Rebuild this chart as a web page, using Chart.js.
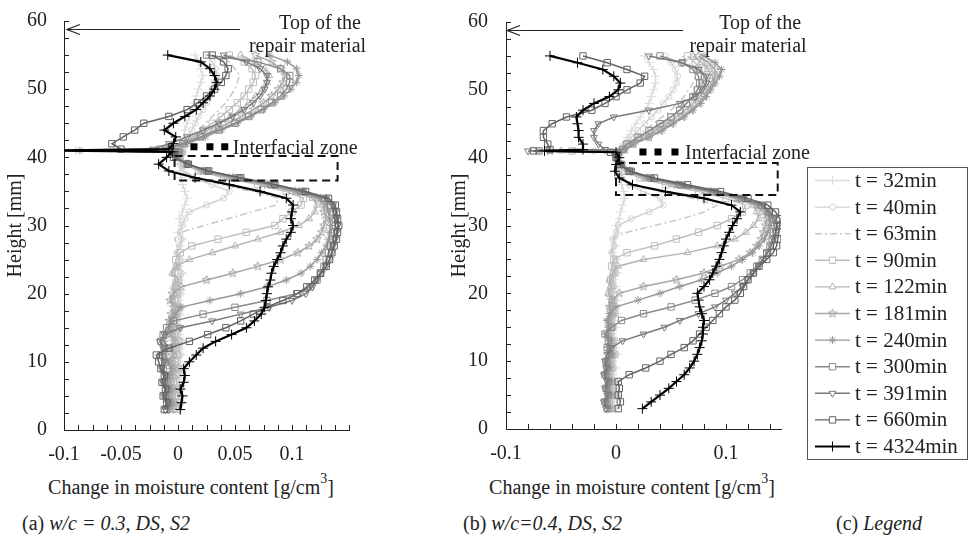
<!DOCTYPE html>
<html>
<head>
<meta charset="utf-8">
<script src="https://cdn.jsdelivr.net/npm/chart.js@4.4.1/dist/chart.umd.min.js"></script>
<style>
  html, body { margin: 0; padding: 0; background: #fff; }
  body { width: 971px; height: 549px; position: relative; overflow: hidden;
         font-family: "Liberation Serif", "DejaVu Serif", serif; color: #222; }
  canvas { position: absolute; }
  .lbl { position: absolute; font-size: 20px; line-height: 24px; white-space: nowrap; }
  .lbl sup { font-size: 14px; line-height: 0; position: relative; top: -3px; }
  .cap { position: absolute; font-size: 20px; line-height: 24px; white-space: nowrap; }
</style>
</head>
<body>
<canvas id="panelA" width="380" height="470" style="left:0;top:0"></canvas>
<canvas id="panelB" width="400" height="470" style="left:420px;top:0"></canvas>
<canvas id="legendBox" width="161" height="293" style="left:807px;top:167px"></canvas>
<div class="lbl" style="left:191px;top:475px;transform:translateX(-50%)">Change in moisture content [g/cm<sup>3</sup>]</div>
<div class="lbl" style="left:632px;top:475px;transform:translateX(-50%)">Change in moisture content [g/cm<sup>3</sup>]</div>
<div class="cap" style="left:22px;top:511px">(a) <i>w/c = 0.3, DS, S2</i></div>
<div class="cap" style="left:463px;top:511px">(b) <i>w/c=0.4, DS, S2</i></div>
<div class="cap" style="left:836px;top:511px">(c) <i>Legend</i></div>
<script>
(function () {
  const heights = [3, 4, 5, 6, 7, 8, 9, 10, 11, 12,
    13, 14, 15, 16, 17, 18, 19, 20, 21, 22,
    23, 24, 25, 26, 27, 28, 29, 30, 31, 32,
    33, 34, 35, 36, 37, 38, 39, 40, 40.8,
    41,
    41.2, 42, 43, 44, 45, 46, 47, 48, 49, 50, 51, 52, 53, 54, 55];

  const seriesLabels = ["t = 32min", "t = 40min", "t = 63min", "t = 90min", "t = 122min", "t = 181min",
    "t = 240min", "t = 300min", "t = 391min", "t = 660min", "t = 4324min"];
  const seriesColors = ["#dcdcdc", "#d2d2d2", "#c8c8c8", "#bebebe", "#b4b4b4", "#a6a6a6",
    "#989898", "#8a8a8a", "#7a7a7a", "#636363", "#000000"];

  // (a) w/c = 0.3
  const a32 = [0.002, 0.004, 0.001, 0.003, 0.000, 0.002, 0.004, 0.001, 0.003, 0.002,
    0.004, 0.001, 0.003, 0.000, 0.002, 0.004, 0.001, 0.003, 0.000, 0.002,
    0.004, 0.001, 0.003, -0.001, 0.002, 0.004, 0.000, 0.003, 0.001, 0.004,
    0.006, 0.008, 0.006, 0.004, 0.003, 0.002, 0.001, 0.002, 0.004,
    -0.09,
    0.000, 0.002, 0.005, 0.006, 0.008, 0.010, 0.012, 0.014, 0.016, 0.018, 0.020, 0.022, 0.020, 0.018, 0.015];
  const a40 = [0.001, 0.003, 0.000, 0.002, -0.001, 0.001, 0.003, 0.000, 0.002, 0.001,
    0.003, 0.000, 0.002, -0.001, 0.001, 0.003, 0.000, 0.002, -0.001, 0.001,
    0.003, 0.000, 0.002, -0.001, 0.001, 0.003, 0.002, 0.004, 0.006, 0.010,
    0.025, 0.040, 0.045, 0.030, 0.012, 0.004, 0.002, 0.002, 0.003,
    -0.105,
    0.000, 0.004, 0.008, 0.012, 0.015, 0.018, 0.022, 0.025, 0.028, 0.030, 0.032, 0.034, 0.033, 0.030, 0.026];
  const a63 = [0.000, 0.002, -0.001, 0.001, -0.002, 0.000, 0.002, -0.001, 0.001, 0.000,
    0.002, -0.001, 0.001, -0.002, 0.000, 0.002, -0.001, 0.001, -0.002, 0.000,
    0.002, -0.001, 0.001, -0.002, 0.000, -0.003, 0.002, 0.023, 0.044, 0.065,
    0.086, 0.088, 0.065, 0.038, 0.016, 0.005, 0.002, 0.001, 0.003,
    -0.105,
    -0.002, 0.005, 0.012, 0.018, 0.024, 0.030, 0.036, 0.042, 0.046, 0.050, 0.052, 0.054, 0.050, 0.045, 0.035];
  const a90 = [-0.002, 0.000, -0.003, -0.001, -0.004, -0.002, 0.000, -0.003, -0.001, -0.002,
    0.000, -0.003, -0.001, -0.004, -0.002, 0.000, -0.003, -0.001, -0.002, 0.000,
    -0.003, -0.001, -0.002, 0.002, 0.012, 0.035, 0.060, 0.085, 0.092, 0.100,
    0.108, 0.110, 0.095, 0.070, 0.040, 0.018, 0.006, 0.002, 0.004,
    -0.105,
    -0.006, 0.004, 0.014, 0.022, 0.030, 0.038, 0.045, 0.052, 0.058, 0.062, 0.066, 0.068, 0.065, 0.058, 0.045];
  const a122 = [-0.004, -0.002, -0.005, -0.003, -0.006, -0.004, -0.002, -0.005, -0.003, -0.004,
    -0.002, -0.005, -0.003, -0.006, -0.004, -0.002, -0.005, -0.003, -0.004, -0.002,
    -0.005, -0.002, 0.010, 0.030, 0.050, 0.070, 0.090, 0.106, 0.115, 0.120,
    0.122, 0.118, 0.100, 0.075, 0.045, 0.020, 0.007, 0.001, 0.003,
    -0.105,
    -0.008, 0.004, 0.016, 0.026, 0.036, 0.046, 0.055, 0.062, 0.068, 0.074, 0.078, 0.080, 0.076, 0.068, 0.055];
  const a181 = [-0.006, -0.004, -0.007, -0.005, -0.008, -0.006, -0.004, -0.007, -0.005, -0.006,
    -0.004, -0.007, -0.005, -0.008, -0.006, -0.004, -0.007, -0.005, 0.003, 0.025,
    0.048, 0.070, 0.090, 0.105, 0.115, 0.122, 0.126, 0.128, 0.130, 0.128,
    0.128, 0.122, 0.103, 0.078, 0.048, 0.022, 0.008, 0.000, 0.002,
    -0.105,
    -0.010, 0.006, 0.020, 0.032, 0.044, 0.056, 0.066, 0.075, 0.082, 0.088, 0.092, 0.094, 0.090, 0.082, 0.068];
  const a240 = [-0.008, -0.006, -0.009, -0.007, -0.010, -0.008, -0.006, -0.009, -0.011, -0.009,
    -0.012, -0.010, -0.008, -0.006, -0.002, 0.002, 0.028, 0.055, 0.078, 0.095,
    0.108, 0.116, 0.122, 0.126, 0.130, 0.132, 0.133, 0.134, 0.133, 0.132,
    0.130, 0.125, 0.106, 0.080, 0.050, 0.024, 0.009, 0.000, 0.002,
    -0.086,
    -0.012, 0.008, 0.024, 0.038, 0.052, 0.064, 0.075, 0.085, 0.093, 0.099, 0.104, 0.106, 0.104, 0.096, 0.080];
  const a300 = [-0.010, -0.008, -0.011, -0.009, -0.012, -0.010, -0.013, -0.011, -0.014, -0.012,
    -0.015, -0.013, -0.010, -0.004, 0.022, 0.050, 0.078, 0.104, 0.116, 0.122,
    0.125, 0.128, 0.130, 0.132, 0.134, 0.136, 0.137, 0.138, 0.138, 0.136,
    0.134, 0.128, 0.108, 0.082, 0.052, 0.025, 0.008, -0.002, 0.000,
    -0.105,
    -0.016, 0.004, 0.020, 0.036, 0.050, 0.062, 0.073, 0.082, 0.090, 0.095, 0.098, 0.098, 0.090, 0.070, 0.025];
  const a391 = [-0.011, -0.009, -0.012, -0.010, -0.013, -0.011, -0.014, -0.012, -0.015, -0.013,
    -0.016, -0.012, 0.002, 0.030, 0.055, 0.080, 0.100, 0.112, 0.118, 0.122,
    0.126, 0.130, 0.133, 0.135, 0.136, 0.138, 0.139, 0.140, 0.139, 0.138,
    0.136, 0.130, 0.110, 0.084, 0.054, 0.026, 0.008, -0.003, -0.002,
    -0.105,
    -0.022, -0.008, 0.008, 0.022, 0.036, 0.048, 0.058, 0.066, 0.072, 0.076, 0.078, 0.078, 0.072, 0.060, 0.040];
  const a660 = [-0.012, -0.010, -0.013, -0.011, -0.014, -0.012, -0.015, -0.017, -0.019, -0.008,
    0.010, 0.026, 0.042, 0.055, 0.066, 0.078, 0.092, 0.105, 0.113, 0.120,
    0.125, 0.130, 0.133, 0.135, 0.137, 0.139, 0.140, 0.141, 0.140, 0.139,
    0.138, 0.132, 0.112, 0.085, 0.055, 0.027, 0.009, -0.004, -0.003,
    -0.105,
    -0.050, -0.058, -0.048, -0.038, -0.030, -0.008, 0.008, 0.017, 0.025, 0.032, 0.038, 0.042, 0.044, 0.040, 0.030];
  const a4324 = [0.002, 0.003, 0.004, 0.002, 0.005, 0.006, 0.005, 0.010, 0.016, 0.022,
    0.033, 0.047, 0.060, 0.067, 0.073, 0.076, 0.077, 0.078, 0.079, 0.081,
    0.082, 0.084, 0.087, 0.090, 0.092, 0.095, 0.099, 0.101, 0.099, 0.100,
    0.101, 0.095, 0.072, 0.045, 0.015, -0.008, -0.017, -0.010, -0.005,
    -0.105,
    -0.008, -0.004, -0.002, -0.012, -0.004, 0.006, 0.016, 0.022, 0.028, 0.032, 0.034, 0.032, 0.028, 0.020, -0.009];

  // (b) w/c = 0.4
  const b32 = [0.000, -0.003, 0.002, -0.002, 0.001, -0.003, 0.000, -0.002, 0.002, -0.001,
    0.001, -0.003, 0.000, -0.002, 0.002, -0.001, 0.001, -0.003, 0.000, -0.002,
    0.002, -0.001, 0.001, -0.003, 0.000, -0.002, 0.002, 0.000, 0.003, 0.004,
    0.006, 0.008, 0.007, 0.005, 0.003, 0.002, 0.001, 0.002, 0.003,
    -0.010,
    0.004, 0.006, 0.010, 0.014, 0.018, 0.022, 0.026, 0.030, 0.032, 0.034, 0.036, 0.036, 0.034, 0.030, 0.026];
  const b40 = [-0.002, -0.004, 0.000, -0.003, -0.001, -0.004, -0.002, -0.003, 0.000, -0.002,
    -0.001, -0.004, -0.002, -0.003, 0.000, -0.002, -0.001, -0.004, -0.002, -0.003,
    0.000, -0.002, -0.001, -0.004, -0.002, -0.003, 0.000, 0.002, 0.014, 0.030,
    0.043, 0.040, 0.025, 0.012, 0.005, 0.003, 0.002, 0.002, 0.003,
    -0.020,
    0.005, 0.008, 0.014, 0.020, 0.026, 0.032, 0.038, 0.043, 0.048, 0.052, 0.055, 0.056, 0.054, 0.050, 0.045];
  const b63 = [-0.003, -0.005, -0.001, -0.004, -0.002, -0.005, -0.003, -0.004, -0.001, -0.003,
    -0.002, -0.005, -0.003, -0.004, -0.001, -0.003, -0.002, -0.005, -0.003, -0.004,
    -0.001, -0.003, -0.002, -0.005, -0.003, -0.003, 0.010, 0.035, 0.060, 0.080,
    0.092, 0.070, 0.040, 0.016, 0.006, 0.003, 0.002, 0.001, 0.003,
    -0.030,
    0.006, 0.010, 0.018, 0.026, 0.034, 0.042, 0.050, 0.056, 0.062, 0.066, 0.070, 0.072, 0.070, 0.066, 0.060];
  const b90 = [-0.004, -0.006, -0.003, -0.005, -0.003, -0.006, -0.004, -0.005, -0.002, -0.004,
    -0.003, -0.006, -0.004, -0.005, -0.002, -0.004, -0.003, -0.006, -0.004, -0.005,
    -0.002, -0.004, -0.002, 0.010, 0.035, 0.055, 0.075, 0.092, 0.105, 0.115,
    0.118, 0.100, 0.075, 0.045, 0.022, 0.008, 0.003, 0.001, 0.003,
    -0.040,
    0.006, 0.012, 0.022, 0.032, 0.042, 0.050, 0.058, 0.064, 0.070, 0.074, 0.078, 0.080, 0.078, 0.072, 0.065];
  const b122 = [-0.005, -0.007, -0.004, -0.006, -0.004, -0.007, -0.005, -0.006, -0.003, -0.005,
    -0.004, -0.007, -0.005, -0.006, -0.003, -0.005, -0.004, -0.007, -0.005, -0.006,
    -0.003, 0.002, 0.025, 0.065, 0.092, 0.108, 0.118, 0.125, 0.130, 0.128,
    0.125, 0.108, 0.082, 0.052, 0.026, 0.010, 0.004, 0.001, 0.003,
    -0.050,
    0.007, 0.014, 0.026, 0.036, 0.046, 0.055, 0.063, 0.070, 0.076, 0.080, 0.084, 0.086, 0.084, 0.078, 0.070];
  const b181 = [-0.006, -0.008, -0.005, -0.007, -0.005, -0.008, -0.006, -0.007, -0.004, -0.006,
    -0.005, -0.008, -0.006, -0.007, -0.004, -0.006, -0.004, 0.003, 0.025, 0.055,
    0.080, 0.095, 0.112, 0.122, 0.128, 0.132, 0.134, 0.136, 0.137, 0.134,
    0.128, 0.110, 0.085, 0.055, 0.028, 0.012, 0.004, 0.001, 0.003,
    -0.060,
    0.008, 0.016, 0.030, 0.040, 0.050, 0.060, 0.068, 0.075, 0.080, 0.084, 0.088, 0.090, 0.090, 0.084, 0.075];
  const b240 = [-0.007, -0.009, -0.006, -0.008, -0.006, -0.009, -0.007, -0.008, -0.005, -0.007,
    -0.006, -0.009, -0.007, -0.008, -0.006, 0.000, 0.020, 0.040, 0.058, 0.078,
    0.092, 0.105, 0.115, 0.124, 0.130, 0.135, 0.138, 0.140, 0.140, 0.137,
    0.130, 0.112, 0.087, 0.057, 0.030, 0.013, 0.005, 0.002, 0.003,
    -0.070,
    0.008, 0.016, 0.030, 0.042, 0.052, 0.062, 0.070, 0.077, 0.082, 0.086, 0.090, 0.094, 0.096, 0.090, 0.080];
  const b300 = [-0.008, -0.010, -0.007, -0.009, -0.007, -0.010, -0.008, -0.009, -0.006, -0.008,
    -0.007, -0.010, -0.004, 0.005, 0.025, 0.050, 0.072, 0.090, 0.105, 0.115,
    0.122, 0.128, 0.133, 0.137, 0.140, 0.142, 0.143, 0.144, 0.142, 0.139,
    0.132, 0.114, 0.088, 0.058, 0.031, 0.014, 0.005, 0.001, 0.002,
    -0.070,
    0.006, 0.010, 0.020, 0.030, 0.040, 0.050, 0.058, 0.064, 0.070, 0.074, 0.076, 0.075, 0.070, 0.060, 0.040];
  const b391 = [-0.009, -0.011, -0.008, -0.010, -0.008, -0.011, -0.009, -0.010, -0.008, -0.004,
    0.006, 0.025, 0.044, 0.058, 0.075, 0.090, 0.100, 0.108, 0.115, 0.120,
    0.125, 0.130, 0.134, 0.138, 0.141, 0.143, 0.145, 0.146, 0.144, 0.140,
    0.134, 0.116, 0.090, 0.060, 0.032, 0.014, 0.005, 0.000, 0.001,
    -0.080,
    -0.010, -0.016, -0.020, -0.020, -0.016, -0.002, 0.030, 0.058, 0.072, 0.078, 0.082, 0.082, 0.075, 0.060, 0.030];
  const b660 = [0.002, 0.004, 0.002, 0.003, 0.002, 0.012, 0.027, 0.040, 0.050, 0.062,
    0.070, 0.076, 0.082, 0.088, 0.094, 0.100, 0.108, 0.113, 0.116, 0.120,
    0.125, 0.130, 0.137, 0.143, 0.146, 0.147, 0.148, 0.149, 0.149, 0.145,
    0.138, 0.120, 0.095, 0.065, 0.035, 0.012, 0.003, 0.000, -0.005,
    -0.075,
    -0.060, -0.062, -0.066, -0.066, -0.058, -0.045, -0.022, -0.010, 0.000, 0.010, 0.022, 0.026, 0.010, -0.008, -0.030];
  const b4324 = [0.024, 0.032, 0.040, 0.048, 0.055, 0.062, 0.067, 0.071, 0.074, 0.076,
    0.078, 0.079, 0.079, 0.080, 0.078, 0.076, 0.075, 0.074, 0.080, 0.085,
    0.088, 0.091, 0.094, 0.096, 0.098, 0.100, 0.103, 0.106, 0.110, 0.113,
    0.105, 0.080, 0.045, 0.015, 0.003, -0.001, 0.000, 0.003, 0.000,
    -0.065,
    -0.030, -0.030, -0.034, -0.034, -0.035, -0.036, -0.030, -0.020, -0.006, 0.002, 0.004, -0.002, -0.012, -0.035, -0.060];

  const xTickLabelsA = [-0.1, -0.05, 0, 0.05, 0.1];
  const xTickLabelsB = [-0.1, 0, 0.1];
  const yTickLabels = [0, 10, 20, 30, 40, 50, 60];

  const fontFamily = '"Liberation Serif", "DejaVu Serif", serif';

  const markers = [
    { style: "cross", radius: 4.5 },
    { style: "circle", radius: 3 },
    { style: false, radius: 0, dash: [7, 3, 2, 3] },
    { style: "rect", radius: 4.5 },
    { style: "triangle", radius: 4 },
    { style: "pentagram", radius: 4.5 },
    { style: "star", radius: 4 },
    { style: "rect", radius: 4.5 },
    { style: "triangle", radius: 4, rotation: 180 },
    { style: "rect", radius: 4.5 },
    { style: "cross", radius: 5 },
  ];

  function pentagram(color, r) {
    const c = document.createElement("canvas");
    const s = Math.ceil(r * 2 + 3);
    c.width = s;
    c.height = s;
    const g = c.getContext("2d");
    g.strokeStyle = color;
    g.lineWidth = 1;
    g.beginPath();
    for (let i = 0; i < 10; i++) {
      const ang = -Math.PI / 2 + i * Math.PI / 5;
      const rr = i % 2 ? r * 0.42 : r;
      const px = s / 2 + rr * Math.cos(ang);
      const py = s / 2 + rr * Math.sin(ang);
      if (i === 0) g.moveTo(px, py); else g.lineTo(px, py);
    }
    g.closePath();
    g.stroke();
    return c;
  }

  function pointStyleFor(i) {
    const m = markers[i];
    if (m.style === "pentagram") return pentagram(seriesColors[i], m.radius);
    return m.style;
  }

  function buildTicks(min, max, step) {
    const out = [];
    const n = Math.floor((max - min) / step + 1e-9);
    for (let i = 0; i <= n; i++) {
      out.push({ value: +(min + i * step).toFixed(6) });
    }
    return out;
  }

  function labelFor(value, list) {
    const hit = list.some(function (v) { return Math.abs(v - value) < 1e-6; });
    return hit ? String(Math.round(value * 100) / 100) : "";
  }

  const overlayPlugin = {
    id: "overlay",
    afterDraw: function (chart, args, opts) {
      const ctx = chart.ctx;
      const xs = chart.scales.x;
      const ys = chart.scales.y;
      const area = chart.chartArea;
      ctx.save();

      // tick marks pointing inwards
      ctx.strokeStyle = "#222";
      ctx.lineWidth = 1;
      ctx.beginPath();
      xs.ticks.forEach(function (t) {
        const px = Math.round(xs.getPixelForValue(t.value)) + 0.5;
        ctx.moveTo(px, area.bottom);
        ctx.lineTo(px, area.bottom - 5);
      });
      ys.ticks.forEach(function (t) {
        const py = Math.round(ys.getPixelForValue(t.value)) + 0.5;
        ctx.moveTo(area.left, py);
        ctx.lineTo(area.left + 5, py);
      });
      ctx.stroke();

      // interfacial zone box
      const z = opts.zone;
      const zx0 = xs.getPixelForValue(z.x0);
      const zx1 = xs.getPixelForValue(z.x1);
      const zy0 = ys.getPixelForValue(z.y0);
      const zy1 = ys.getPixelForValue(z.y1);
      ctx.setLineDash([8, 5]);
      ctx.lineWidth = 2;
      ctx.strokeStyle = "#111";
      ctx.strokeRect(zx0, zy1, zx1 - zx0, zy0 - zy1);
      ctx.setLineDash([]);

      ctx.fillStyle = "#000";
      const my = ys.getPixelForValue(opts.marks.y);
      opts.marks.x.forEach(function (v) {
        const px = xs.getPixelForValue(v);
        ctx.fillRect(px - 3.5, my - 3.5, 7, 7);
      });

      ctx.font = "20px " + fontFamily;
      ctx.fillStyle = "#222";
      ctx.textBaseline = "alphabetic";
      opts.texts.forEach(function (t) {
        ctx.textAlign = t.align;
        ctx.fillText(t.text, xs.getPixelForValue(t.x), ys.getPixelForValue(t.y));
      });

      // arrow to the top of the repair material
      const a = opts.arrow;
      const ax0 = xs.getPixelForValue(a.x0);
      const ax1 = xs.getPixelForValue(a.x1);
      const ay = Math.round(ys.getPixelForValue(a.y)) + 0.5;
      ctx.lineWidth = 1.2;
      ctx.strokeStyle = "#222";
      ctx.beginPath();
      ctx.moveTo(ax1, ay);
      ctx.lineTo(ax0, ay);
      ctx.moveTo(ax0 + 13, ay - 5);
      ctx.lineTo(ax0, ay);
      ctx.lineTo(ax0 + 13, ay + 5);
      ctx.stroke();

      ctx.restore();
    },
  };

  function makePanel(canvasId, series, cfg) {
    const datasets = series.map(function (vals, i) {
      const m = markers[i];
      return {
        label: seriesLabels[i],
        data: heights.map(function (h, k) { return { x: vals[k], y: h }; }),
        showLine: true,
        borderColor: seriesColors[i],
        borderWidth: i === series.length - 1 ? 2.2 : 1.5,
        borderDash: m.dash || [],
        pointStyle: pointStyleFor(i),
        pointRadius: m.radius,
        pointRotation: m.rotation || 0,
        pointBorderColor: seriesColors[i],
        pointBackgroundColor: "rgba(0,0,0,0)",
        pointBorderWidth: 1,
        order: series.length - 1 - i,
      };
    });

    const tickFont = { family: fontFamily, size: 20 };

    return new Chart(document.getElementById(canvasId), {
      type: "scatter",
      data: { datasets: datasets },
      options: {
        responsive: false,
        animation: false,
        events: [],
        layout: { padding: cfg.padding },
        plugins: {
          legend: { display: false },
          tooltip: { enabled: false },
          overlay: cfg.overlay,
        },
        scales: {
          x: {
            type: "linear",
            min: -0.1,
            max: 0.15,
            afterBuildTicks: function (s) { s.ticks = buildTicks(-0.1, 0.15, cfg.xStep); },
            afterFit: function (s) { s.height = cfg.xHeight; },
            grid: { display: false },
            border: { color: "#222", width: 1 },
            ticks: {
              autoSkip: false,
              maxRotation: 0,
              minRotation: 0,
              padding: 5,
              color: "#222",
              font: tickFont,
              callback: function (v) { return labelFor(v, cfg.xLabels); },
            },
          },
          y: {
            type: "linear",
            min: 0,
            max: 60,
            afterBuildTicks: function (s) { s.ticks = buildTicks(0, 60, 2.5); },
            afterFit: function (s) { s.width = cfg.yWidth; },
            grid: { display: false },
            border: { color: "#222", width: 1 },
            ticks: {
              autoSkip: false,
              padding: cfg.yPad,
              color: "#222",
              font: tickFont,
              callback: function (v) { return labelFor(v, yTickLabels); },
            },
            title: {
              display: true,
              text: "Height [mm]",
              color: "#222",
              font: tickFont,
              padding: { top: 4, bottom: 0 },
            },
          },
        },
      },
      plugins: [overlayPlugin],
    });
  }

  makePanel("panelA", [a32, a40, a63, a90, a122, a181, a240, a300, a391, a660, a4324], {
    padding: { top: 18, right: 31, bottom: 0, left: 0 },
    xHeight: 40,
    yWidth: 64,
    yPad: 9,
    xStep: 0.0125,
    xLabels: xTickLabelsA,
    overlay: {
      zone: { x0: -0.003, x1: 0.14, y0: 36.6, y1: 40.2 },
      marks: { x: [0.014, 0.028, 0.041], y: 41.55 },
      texts: [
        { text: "Top of the", x: 0.1246, y: 58.8, align: "center" },
        { text: "repair material", x: 0.1136, y: 55.45, align: "center" },
        { text: "Interfacial zone", x: 0.048, y: 40.5, align: "left" },
      ],
      arrow: { x0: -0.0974, x1: 0.0544, y: 58.8 },
    },
  });

  makePanel("panelB", [b32, b40, b63, b90, b122, b181, b240, b300, b391, b660, b4324], {
    padding: { top: 16, right: 39, bottom: 0, left: 24 },
    xHeight: 41,
    yWidth: 62,
    yPad: 10,
    xStep: 0.02,
    xLabels: xTickLabelsB,
    overlay: {
      zone: { x0: 0, x1: 0.147, y0: 34.5, y1: 39.2 },
      marks: { x: [0.0245, 0.0382, 0.0536], y: 40.84 },
      texts: [
        { text: "Top of the", x: 0.131, y: 58.94, align: "center" },
        { text: "repair material", x: 0.12, y: 55.54, align: "center" },
        { text: "Interfacial zone", x: 0.0627, y: 39.8, align: "left" },
      ],
      arrow: { x0: -0.099, x1: 0.061, y: 58.84 },
    },
  });

  function drawLegend() {
    const c = document.getElementById("legendBox");
    const g = c.getContext("2d");
    g.fillStyle = "#fff";
    g.fillRect(0, 0, c.width, c.height);
    g.strokeStyle = "#555";
    g.lineWidth = 1;
    g.strokeRect(0.5, 0.5, c.width - 1, c.height - 1);
    g.font = "21px " + fontFamily;
    g.textBaseline = "middle";
    g.textAlign = "left";
    seriesLabels.forEach(function (lab, i) {
      const m = markers[i];
      const y = 13.5 + i * 26.6;
      g.strokeStyle = seriesColors[i];
      g.lineWidth = i === seriesLabels.length - 1 ? 2 : 1.4;
      g.setLineDash(m.dash || []);
      g.beginPath();
      g.moveTo(8, y);
      g.lineTo(43, y);
      g.stroke();
      g.setLineDash([]);
      g.lineWidth = 1;
      g.fillStyle = "#fff";
      if (m.style && window.Chart && Chart.helpers && Chart.helpers.drawPoint) {
        Chart.helpers.drawPoint(g, {
          pointStyle: pointStyleFor(i),
          radius: m.radius,
          rotation: m.rotation || 0,
          borderWidth: 1,
        }, 25.5, y);
      }
      g.fillStyle = "#222";
      g.fillText(lab, 48, y + 1);
    });
  }

  drawLegend();
})();
</script>
</body>
</html>
